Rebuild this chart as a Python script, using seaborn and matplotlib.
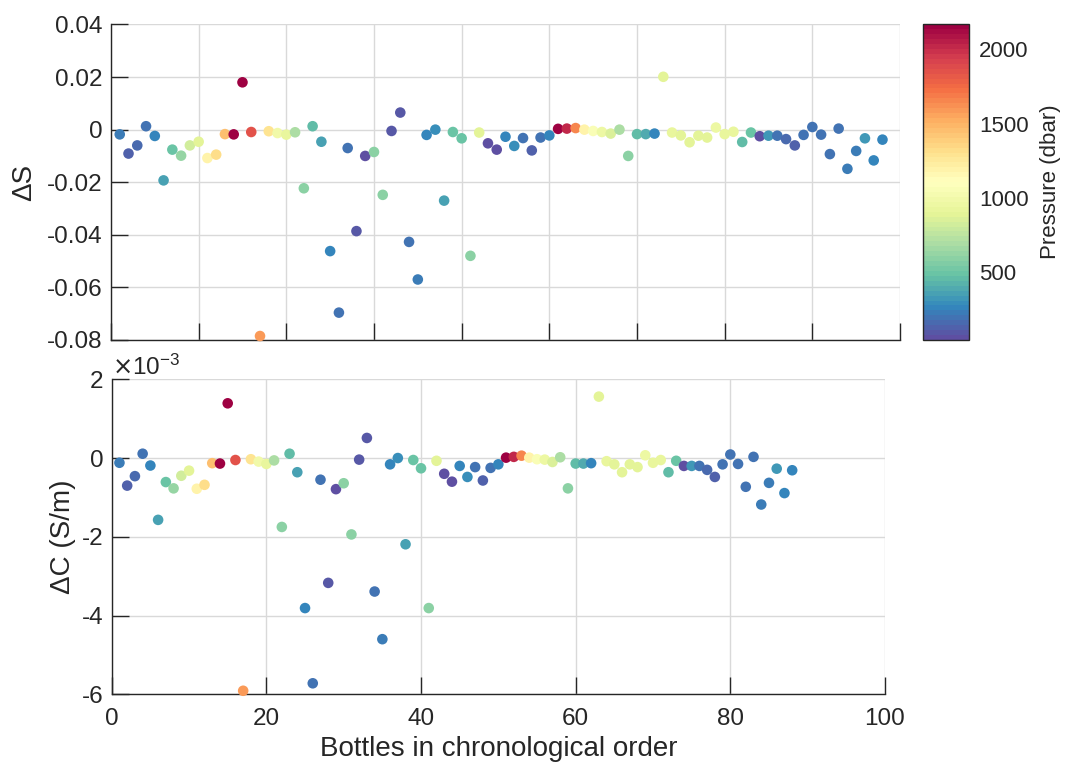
import numpy as np
import pandas as pd
import matplotlib
matplotlib.use("Agg")
import matplotlib.pyplot as plt
import seaborn as sns
from matplotlib.colors import Normalize
from matplotlib.cm import ScalarMappable
from matplotlib.ticker import ScalarFormatter, FuncFormatter

# Salinity residual (bottle - CTD) for each bottle, in order of sampling
delta_s = [
    -0.0018, -0.0091, -0.0060, 0.0013, -0.0024, -0.0193, -0.0076, -0.0099,
    -0.0060, -0.0046, -0.0108, -0.0095, -0.0017, -0.0018, 0.0180, -0.0009,
    -0.0785, -0.0006, -0.0013, -0.0019, -0.0010, -0.0223, 0.0013, -0.0046,
    -0.0462, -0.0696, -0.0070, -0.0386, -0.0100, -0.0085, -0.0248, -0.0005,
    0.0065, -0.0427, -0.0570, -0.0020, 0.0000, -0.0270, -0.0009, -0.0033,
    -0.0480, -0.0011, -0.0052, -0.0076, -0.0027, -0.0062, -0.0032, -0.0079,
    -0.0030, -0.0022, 0.0003, 0.0004, 0.0006, 0.0000, -0.0005, -0.0009,
    -0.0015, 0.0000, -0.0100, -0.0017, -0.0017, -0.0015, 0.0201, -0.0011,
    -0.0022, -0.0048, -0.0023, -0.0030, 0.0008, -0.0017, -0.0008, -0.0047,
    -0.0011, -0.0025, -0.0023, -0.0023, -0.0036, -0.0060, -0.0020, 0.0010,
    -0.0019, -0.0093, 0.0004, -0.0149, -0.0081, -0.0033, -0.0117, -0.0038,
]

# Conductivity residual in units of 1e-3 S/m
delta_c_milli = [
    -0.12, -0.70, -0.46, 0.11, -0.19, -1.57, -0.61, -0.77,
    -0.45, -0.32, -0.78, -0.68, -0.13, -0.14, 1.39, -0.05,
    -5.91, -0.03, -0.09, -0.15, -0.06, -1.75, 0.11, -0.36,
    -3.81, -5.72, -0.55, -3.17, -0.79, -0.64, -1.94, -0.04,
    0.51, -3.39, -4.60, -0.16, 0.00, -2.19, -0.05, -0.26,
    -3.81, -0.07, -0.40, -0.60, -0.20, -0.48, -0.23, -0.57,
    -0.25, -0.16, 0.01, 0.03, 0.06, 0.01, -0.03, -0.04,
    -0.10, 0.02, -0.77, -0.14, -0.14, -0.13, 1.56, -0.08,
    -0.16, -0.36, -0.16, -0.23, 0.07, -0.12, -0.05, -0.36,
    -0.07, -0.20, -0.20, -0.20, -0.30, -0.48, -0.16, 0.09,
    -0.15, -0.73, 0.03, -1.18, -0.63, -0.27, -0.89, -0.31,
]

# Bottle trip pressure (dbar)
pressure = [
    230, 130, 150, 190, 250, 370, 480, 620,
    810, 900, 1200, 1320, 1470, 2140, 2168, 1860,
    1580, 1300, 1000, 920, 700, 600, 470, 370,
    260, 200, 190, 100, 42, 600, 600, 100,
    100, 190, 220, 250, 300, 370, 490, 500,
    600, 880, 50, 55, 250, 280, 190, 140,
    190, 270, 2160, 2030, 1640, 1200, 1050, 970,
    850, 680, 600, 460, 390, 270, 900, 920,
    900, 880, 900, 900, 950, 920, 920, 470,
    490, 70, 310, 190, 170, 140, 200, 190,
    190, 200, 200, 220, 220, 330, 270, 260,
]

bottle = np.arange(1, len(delta_s) + 1)

df = pd.DataFrame({
    "bottle": bottle,
    "dS": delta_s,
    "dC": np.array(delta_c_milli) * 1e-3,
    "pressure": pressure,
})


class PlainSciFormatter(ScalarFormatter):
    """Scientific offset label, but plain tick numbers with ASCII minus."""

    def __call__(self, x, pos=None):
        return f"{x / 10 ** self.orderOfMagnitude:g}"


sns.set_theme(style="white")
plt.rcParams.update({
    "font.family": ["Liberation Sans", "DejaVu Sans"],
    "axes.unicode_minus": False,
    "axes.edgecolor": "#262626",
    "axes.linewidth": 1.0,
    "xtick.color": "#262626",
    "ytick.color": "#262626",
    "text.color": "#262626",
    "axes.labelcolor": "#262626",
    "xtick.bottom": True,
    "ytick.left": True,
})

cmap = plt.get_cmap("Spectral_r", 64)
norm = Normalize(vmin=min(pressure), vmax=max(pressure))

fig = plt.figure(figsize=(10.67, 7.65), dpi=100)
ax1 = fig.add_axes([0.104, 0.5556, 0.7395, 0.4124])
ax2 = fig.add_axes([0.1047, 0.0924, 0.7247, 0.4118])
cax = fig.add_axes([0.8648, 0.5556, 0.0434, 0.4126])

grid_kw = dict(color="#d9d9d9", linewidth=1.0)
tick_kw = dict(direction="in", length=12, width=1.0, labelsize=17.5)

for ax, col in ((ax1, "dS"), (ax2, "dC")):
    sns.scatterplot(data=df, x="bottle", y=col, hue="pressure",
                    palette=cmap, hue_norm=norm, s=58, linewidth=0,
                    legend=False, ax=ax, clip_on=False, zorder=4)
    ax.grid(True, **grid_kw)
    ax.set_axisbelow(True)
    for side in ("top", "right"):
        ax.spines[side].set_visible(False)
    ax.tick_params(axis="both", bottom=True, left=True, **tick_kw)
    ax.tick_params(axis="x", pad=10)
    ax.tick_params(axis="y", pad=6)

# Upper panel: salinity
ax1.set_xlim(0, 90)
ax1.set_xticks(np.arange(0, 91, 10))
ax1.tick_params(axis="x", labelbottom=False)
ax1.set_ylim(-0.08, 0.04)
ax1.set_yticks([-0.08, -0.06, -0.04, -0.02, 0, 0.02, 0.04])
ax1.yaxis.set_major_formatter(FuncFormatter(lambda v, p: f"{v:g}"))
ax1.set_xlabel("")
ax1.set_ylabel("ΔS", fontsize=20, labelpad=7)

# Lower panel: conductivity
ax2.set_xlim(0, 100)
ax2.set_xticks(np.arange(0, 101, 20))
ax2.set_ylim(-6e-3, 2e-3)
ax2.set_yticks([-6e-3, -4e-3, -2e-3, 0, 2e-3])
fmt = PlainSciFormatter(useMathText=True)
fmt.set_powerlimits((0, 0))
ax2.yaxis.set_major_formatter(fmt)
ax2.yaxis.get_offset_text().set_fontsize(17.5)
ax2.set_xlabel("Bottles in chronological order", fontsize=20, labelpad=4)
ax2.set_ylabel("ΔC (S/m)", fontsize=20, labelpad=4)

# Pressure colour scale
cb = fig.colorbar(ScalarMappable(norm=norm, cmap=cmap), cax=cax)
cb.set_ticks([500, 1000, 1500, 2000])
cb.outline.set_edgecolor("#262626")
cb.outline.set_linewidth(1.0)
cax.tick_params(right=True, direction="in", length=9, width=1.0,
                labelsize=16, pad=7)
cb.set_label("Pressure (dbar)", fontsize=16, labelpad=8)

fig.savefig("out.png", dpi=100)
